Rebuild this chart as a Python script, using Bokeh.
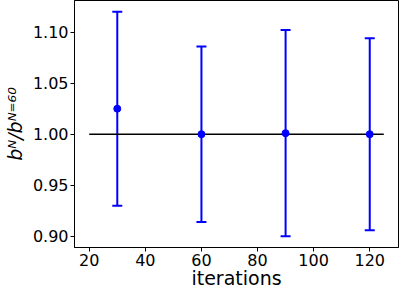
from bokeh.plotting import figure
from bokeh.models import ColumnDataSource, Whisker, TeeHead, Range1d, FixedTicker, CustomJSTickFormatter
from bokeh.embed import file_html
from bokeh.resources import INLINE

iterations = [30, 60, 90, 120]
ratio = [1.025, 1.000, 1.001, 1.000]
err = [0.095, 0.086, 0.101, 0.094]
ref_x = [20, 125]
ref_y = [1.0, 1.0]
x_ticks = [20, 40, 60, 80, 100, 120]
y_ticks = [0.90, 0.95, 1.00, 1.05, 1.10]
x_label = "iterations"
y_label = "bᴺ/bᴺ⁼⁶⁰"

src = ColumnDataSource(dict(
    x=iterations, y=ratio,
    lo=[r - e for r, e in zip(ratio, err)],
    hi=[r + e for r, e in zip(ratio, err)],
))

p = figure(width=399, height=291, output_backend="svg", toolbar_location=None,
           x_range=Range1d(14.75, 130.25), y_range=Range1d(0.889, 1.131),
           min_border_left=66, min_border_right=1, min_border_top=0, min_border_bottom=30)
p.xgrid.visible = False
p.ygrid.visible = False
p.outline_line_color = "black"
p.outline_line_width = 1
p.outline_line_alpha = 1

p.line(ref_x, ref_y, line_color="black", line_width=1.5)

w = Whisker(source=src, base="x", lower="lo", upper="hi", line_color="#0000ff", line_width=2,
            upper_head=TeeHead(size=10, line_color="#0000ff", line_width=2),
            lower_head=TeeHead(size=10, line_color="#0000ff", line_width=2))
p.add_layout(w)
p.scatter("x", "y", source=src, size=7, color="#0000ff")

p.xaxis.ticker = FixedTicker(ticks=x_ticks)
p.yaxis.ticker = FixedTicker(ticks=y_ticks)
p.yaxis.formatter = CustomJSTickFormatter(code="return tick.toFixed(2);")

for ax in (p.xaxis[0], p.yaxis[0]):
    ax.major_label_text_font = "DejaVu Sans"
    ax.major_label_text_font_size = "16px"
    ax.major_label_text_color = "black"
    ax.axis_label_text_font = "DejaVu Sans"
    ax.axis_label_text_font_size = "19px"
    ax.axis_label_text_font_style = "normal"
    ax.axis_label_text_color = "black"
    ax.minor_tick_line_color = None
    ax.major_tick_in = 0
    ax.major_tick_out = 4
    ax.major_tick_line_color = "black"
    ax.axis_line_color = "black"
    ax.major_label_standoff = 2

p.xaxis.major_label_standoff = 2
p.xaxis.axis_label = x_label
p.xaxis.axis_label_standoff = -2
p.yaxis.axis_label = y_label
p.yaxis.axis_label_text_font_style = "italic"
p.yaxis.axis_label_text_font_size = "19px"
p.yaxis.axis_label_standoff = 4

open("out.html", "w").write(file_html(p, INLINE))
